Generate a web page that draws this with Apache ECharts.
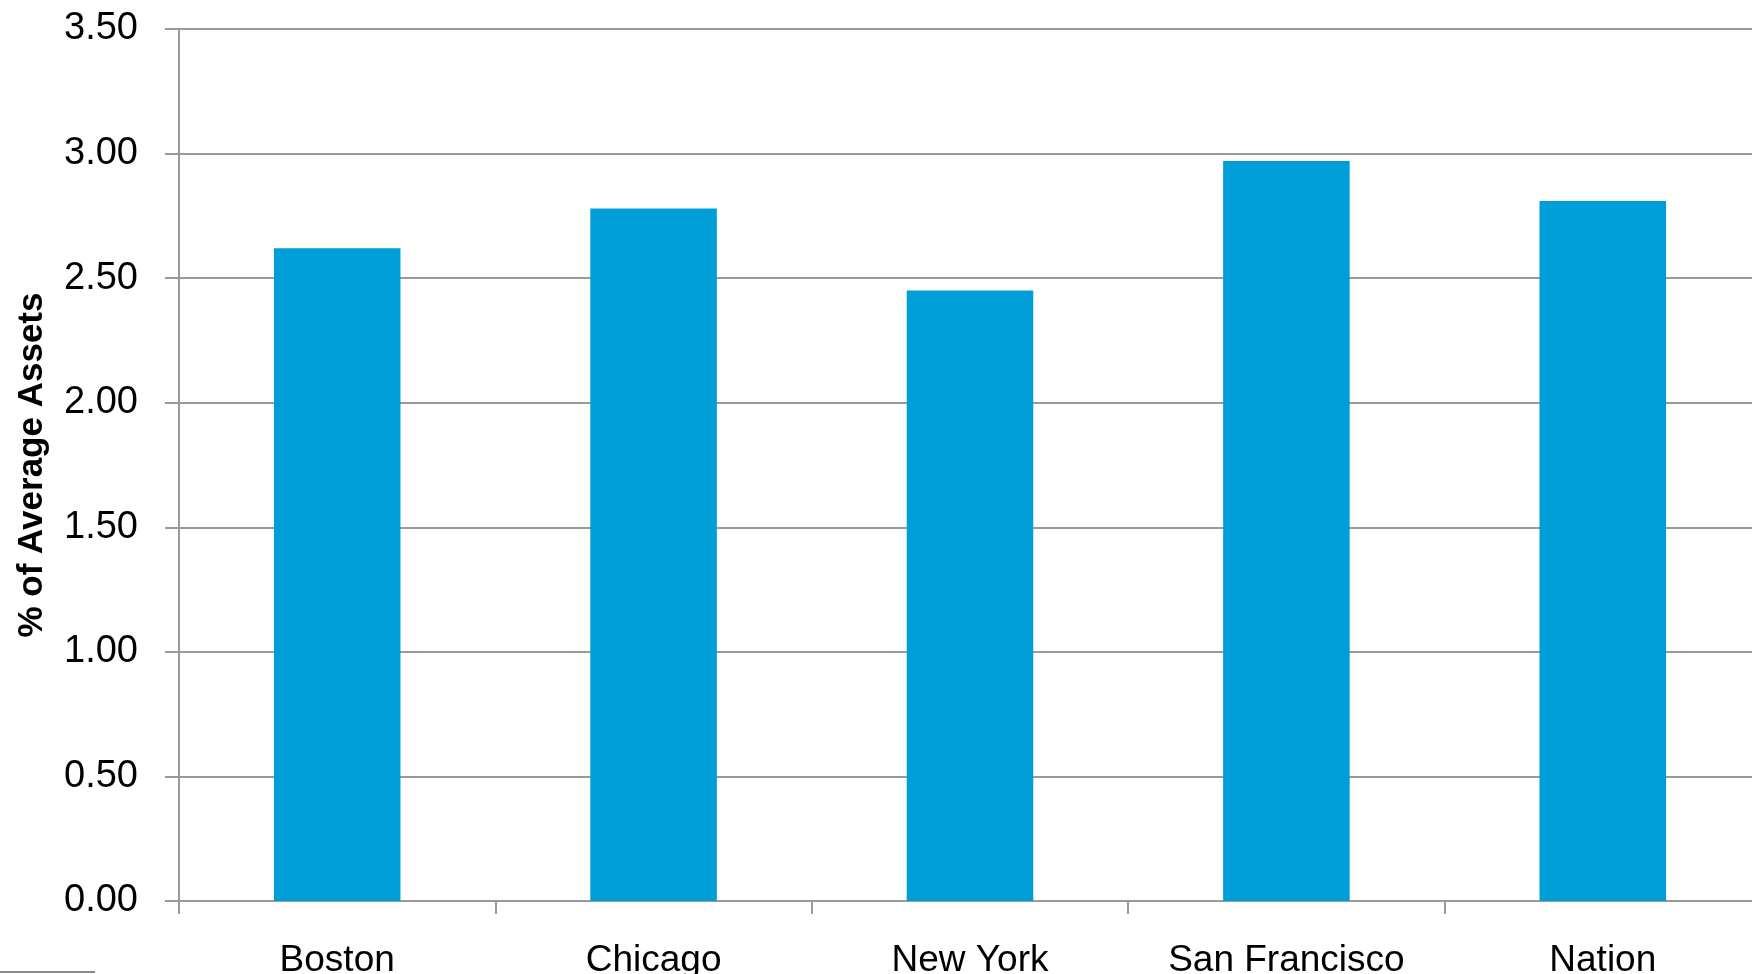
<!DOCTYPE html>
<html>
<head>
<meta charset="utf-8">
<script src="https://cdn.jsdelivr.net/npm/echarts@6/dist/echarts.min.js"></script>
<style>
html,body{margin:0;padding:0;background:#fff;overflow:hidden;width:1752px;height:974px;}
#chart{width:1762px;height:974px;}
</style>
</head>
<body>
<div id="chart"></div>
<script>
const categories = ['Boston', 'Chicago', 'New York', 'San Francisco', 'Nation'];
const values = [2.62, 2.78, 2.45, 2.97, 2.81];
const yTicks = { min: 0, max: 3.5, interval: 0.5 };
const yTitle = '% of Average Assets';

const FONT = '"Liberation Sans", Arial, sans-serif';
const chart = echarts.init(document.getElementById('chart'), null, { renderer: 'canvas' });
chart.setOption({
  animation: false,
  backgroundColor: '#ffffff',
  grid: { left: 179, top: 29, bottom: 73, right: 1, containLabel: false, outerBoundsMode: 'none' },
  xAxis: {
    type: 'category',
    data: categories,
    axisLine: { show: true, lineStyle: { color: '#9a9a9a', width: 2 } },
    axisTick: { show: true, length: 13, lineStyle: { color: '#9a9a9a', width: 2 } },
    axisLabel: { color: '#000', fontFamily: FONT, fontSize: 37, margin: 41 }
  },
  yAxis: {
    type: 'value',
    min: yTicks.min, max: yTicks.max, interval: yTicks.interval,
    name: yTitle,
    nameLocation: 'middle',
    nameGap: 129,
    nameRotate: 90,
    nameTextStyle: { color: '#000', fontFamily: FONT, fontSize: 35, fontWeight: 'bold' },
    axisLine: { show: true, lineStyle: { color: '#9a9a9a', width: 2 } },
    axisTick: { show: true, length: 14, lineStyle: { color: '#9a9a9a', width: 2 } },
    axisLabel: { color: '#000', fontFamily: FONT, fontSize: 38, margin: 41, padding: [4, 0, 0, 0],
      formatter: v => v.toFixed(2) },
    splitLine: { show: true, lineStyle: { color: '#9a9a9a', width: 2 } }
  },
  series: [{
    type: 'bar',
    data: values,
    barWidth: '40%',
    itemStyle: { color: '#009ED9' }
  }],
  graphic: [{
    type: 'line', shape: { x1: 0, y1: 972, x2: 95, y2: 972 },
    style: { stroke: '#8a8a8a', lineWidth: 2 }
  }]
});
</script>
</body>
</html>
